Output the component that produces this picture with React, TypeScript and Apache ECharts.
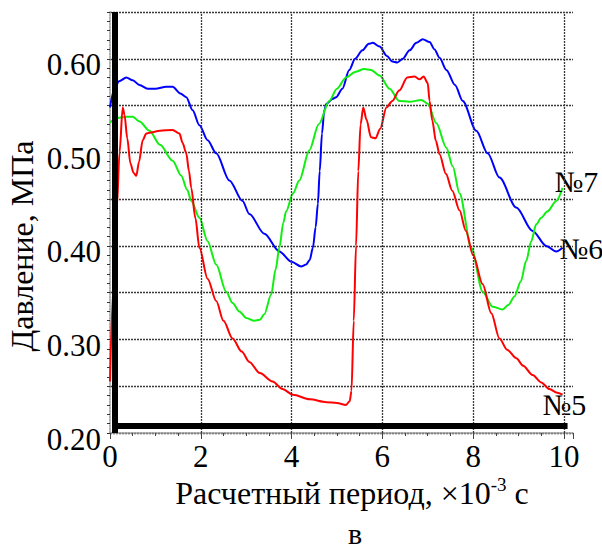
import React, { useEffect, useRef } from "react";
import * as echarts from "echarts";

// Time, x10^-3 s ; pressure, MPa
const CURVE_5: number[][] = [
  [0, 0.255], [0.08, 0.36], [0.15, 0.44], [0.21, 0.5], [0.28, 0.548], [0.32, 0.54],
  [0.38, 0.515], [0.45, 0.488], [0.52, 0.478], [0.58, 0.475], [0.64, 0.49], [0.72, 0.513],
  [0.8, 0.52], [0.87, 0.521], [1.1, 0.523], [1.38, 0.524], [1.53, 0.52], [1.6, 0.51],
  [1.68, 0.499], [1.74, 0.48], [1.79, 0.462], [1.88, 0.43], [1.97, 0.398], [2.15, 0.365],
  [2.34, 0.341], [2.5, 0.32], [2.7, 0.301], [2.9, 0.287], [3.07, 0.276], [3.3, 0.264],
  [3.58, 0.255], [3.8, 0.247], [4.03, 0.241], [4.4, 0.236], [4.77, 0.233], [5.0, 0.232],
  [5.2, 0.23], [5.28, 0.234], [5.32, 0.245], [5.37, 0.32], [5.42, 0.4], [5.47, 0.48],
  [5.52, 0.53], [5.58, 0.548], [5.65, 0.535], [5.75, 0.516], [5.85, 0.515], [5.95, 0.525],
  [6.09, 0.548], [6.22, 0.555], [6.37, 0.566], [6.55, 0.58], [6.71, 0.581], [6.82, 0.578],
  [6.91, 0.581], [7.0, 0.574], [7.04, 0.555], [7.1, 0.534], [7.18, 0.512], [7.26, 0.498],
  [7.4, 0.477], [7.54, 0.459], [7.7, 0.438], [7.84, 0.416], [8.0, 0.39], [8.21, 0.359],
  [8.4, 0.328], [8.58, 0.301], [8.75, 0.289], [8.95, 0.28], [9.1, 0.272], [9.31, 0.262],
  [9.5, 0.254], [9.68, 0.247], [9.85, 0.243], [9.97, 0.241],
];

const CURVE_6: number[][] = [
  [0, 0.548], [0.1, 0.568], [0.2, 0.576], [0.36, 0.58], [0.5, 0.577], [0.65, 0.572],
  [0.83, 0.568], [1.0, 0.568], [1.24, 0.57], [1.38, 0.57], [1.55, 0.563], [1.68, 0.559],
  [1.82, 0.545], [1.97, 0.529], [2.15, 0.513], [2.34, 0.499], [2.63, 0.47], [2.92, 0.448],
  [3.07, 0.434], [3.4, 0.413], [3.73, 0.394], [4.0, 0.383], [4.21, 0.378], [4.32, 0.38],
  [4.4, 0.385], [4.47, 0.398], [4.53, 0.42], [4.58, 0.445], [4.62, 0.48], [4.67, 0.52],
  [4.72, 0.545], [4.77, 0.552], [4.9, 0.557], [4.98, 0.559], [5.12, 0.568], [5.27, 0.588],
  [5.4, 0.6], [5.56, 0.609], [5.7, 0.616], [5.79, 0.617], [5.94, 0.613], [6.1, 0.603],
  [6.22, 0.597], [6.33, 0.596], [6.45, 0.6], [6.6, 0.609], [6.75, 0.617], [6.89, 0.621],
  [7.04, 0.618], [7.15, 0.61], [7.26, 0.601], [7.41, 0.588], [7.6, 0.572], [7.77, 0.555],
  [8.07, 0.523], [8.32, 0.499], [8.58, 0.473], [8.95, 0.441], [9.31, 0.416], [9.61, 0.4],
  [9.83, 0.394], [9.97, 0.398],
];

const CURVE_7: number[][] = [
  [0, 0.532], [0.2, 0.537], [0.36, 0.538], [0.5, 0.538], [0.65, 0.533], [0.87, 0.523],
  [1.1, 0.508], [1.38, 0.491], [1.57, 0.475], [1.7, 0.46], [1.79, 0.448], [1.97, 0.43],
  [2.15, 0.405], [2.34, 0.38], [2.56, 0.351], [2.7, 0.339], [2.85, 0.33], [3.0, 0.323],
  [3.18, 0.32], [3.3, 0.321], [3.4, 0.327], [3.55, 0.348], [3.65, 0.375], [3.73, 0.398],
  [3.82, 0.425], [3.88, 0.437], [4.03, 0.456], [4.17, 0.47], [4.39, 0.502], [4.6, 0.53],
  [4.83, 0.555], [5.0, 0.568], [5.2, 0.58], [5.4, 0.586], [5.6, 0.589], [5.75, 0.588],
  [5.94, 0.582], [6.16, 0.568], [6.37, 0.555], [6.6, 0.554], [6.86, 0.556], [7.0, 0.552],
  [7.19, 0.531], [7.41, 0.505], [7.55, 0.485], [7.7, 0.456], [7.96, 0.398], [8.21, 0.351],
  [8.43, 0.335], [8.65, 0.332], [8.78, 0.337], [8.91, 0.346], [9.05, 0.362], [9.17, 0.384],
  [9.28, 0.405], [9.39, 0.423], [9.5, 0.43], [9.64, 0.437], [9.83, 0.448], [9.97, 0.462],
];

const SERIES_NAMES = ["№6", "№7", "№5"];
const X_LABELS = [0, 2, 4, 6, 8, 10];
const Y_LABELS = [0.2, 0.3, 0.4, 0.5, 0.6];

const FAMILY = "Liberation Serif";
const FONT = "'Liberation Serif', serif";
const GRID_STYLE = { color: "#3a3a3a", width: 1.3, type: [2, 1] as any };

export default function App() {
  const ref = useRef<HTMLDivElement>(null);
  useEffect(() => {
    if (!ref.current) return;
    const chart = echarts.init(ref.current, null, { renderer: "svg" });
    const lineBase = (name: string, data: number[][], color: string, off: number[]) => ({
      type: "line",
      name,
      data,
      showSymbol: false,
      symbol: "none",
      smooth: 0.3,
      smoothMonotone: "x",
      lineStyle: { color, width: 2 },
      endLabel: {
        show: true,
        formatter: name,
        fontFamily: FAMILY,
        fontSize: 30,
        color: "#000",
        offset: off,
      },
      z: 3,
    });
    chart.setOption({
      animation: false,
      backgroundColor: "#fff",
      grid: { left: 110, right: 29, top: 12, bottom: 118 },
      xAxis: {
        type: "value",
        min: 0,
        max: 10.2,
        interval: 2,
        axisLine: { show: true, lineStyle: { color: "#999", width: 1.5, type: [2, 1] } },
        axisTick: { show: true, inside: false, length: 6, lineStyle: { color: "#444" } },
        minorTick: { show: true, splitNumber: 4, length: 3, lineStyle: { color: "#444" } },
        splitLine: { show: false },
        axisLabel: {
          fontFamily: FAMILY,
          fontSize: 31,
          color: "#000",
          margin: 8,
          formatter: (v: number) => (X_LABELS.some((l) => Math.abs(l - v) < 1e-6) ? String(v) : ""),
        },
      },
      yAxis: {
        type: "value",
        min: 0.2,
        max: 0.65,
        interval: 0.05,
        axisLine: { show: true, onZero: false, lineStyle: { color: "#999", width: 1.5, type: [2, 1] } },
        axisTick: { show: true, inside: false, length: 3, lineStyle: { color: "#333" } },
        minorTick: { show: true, splitNumber: 5, length: 3, lineStyle: { color: "#333" } },
        splitLine: { show: true, lineStyle: GRID_STYLE },
        axisLabel: {
          margin: 9,
          formatter: (v: number) =>
            Y_LABELS.some((l) => Math.abs(l - v) < 1e-6) ? `{v|${v.toFixed(2)}}` : "",
          rich: {
            v: { fontFamily: FAMILY, fontSize: 31, color: "#000", padding: [12, 0, 0, 0] },
          },
        },
      },
      series: [
        lineBase(SERIES_NAMES[0], CURVE_6, "#0000ff", [-11, 1]),
        lineBase(SERIES_NAMES[1], CURVE_7, "#11ee11", [-16, -6]),
        lineBase(SERIES_NAMES[2], CURVE_5, "#ff0000", [-28, 10]),
        {
          type: "line",
          name: "grid",
          data: [],
          silent: true,
          z: 1,
          markLine: {
            silent: true,
            symbol: "none",
            animation: false,
            label: { show: false },
            lineStyle: GRID_STYLE,
            data: X_LABELS.filter((v) => v > 0).map((v) => ({ xAxis: v })),
          },
        },
        {
          type: "line",
          name: "frame",
          data: [],
          silent: true,
          z: 10,
          markLine: {
            silent: true,
            symbol: "none",
            animation: false,
            label: { show: false },
            lineStyle: { color: "#000", width: 6, type: "solid" },
            data: [
              [{ coord: [0.11, 0.65] }, { coord: [0.11, 0.2] }],
              [{ coord: [0.05, 0.2075] }, { coord: [10.08, 0.2075] }],
            ],
          },
        },
      ],
      graphic: [
        {
          type: "text",
          x: 22,
          y: 246,
          rotation: Math.PI / 2,
          style: {
            text: "Давление, МПа",
            font: `32px ${FONT}`,
            fill: "#000",
            align: "center",
            verticalAlign: "middle",
            textAlign: "center",
            textVerticalAlign: "middle",
          },
        },
        {
          type: "text",
          x: 352,
          y: 492,
          style: {
            text: "{a|Расчетный период, ×10}{s|-3}{a| с}",
            fill: "#000",
            align: "center",
            verticalAlign: "middle",
            textAlign: "center",
            textVerticalAlign: "middle",
            rich: {
              a: { fontFamily: FAMILY, fontSize: 32, lineHeight: 34, fill: "#000", verticalAlign: "bottom" },
              s: { fontFamily: FAMILY, fontSize: 19, lineHeight: 19, fill: "#000", verticalAlign: "top" },
            },
          },
        },
        {
          type: "text",
          x: 355,
          y: 533,
          style: {
            text: "в",
            font: `30px ${FONT}`,
            fill: "#000",
            align: "center",
            verticalAlign: "middle",
            textAlign: "center",
            textVerticalAlign: "middle",
          },
        },
      ],
    });
    return () => chart.dispose();
  }, []);
  return (
    <div
      ref={ref}
      style={{ position: "absolute", left: 0, top: 0, width: 602, height: 551 }}
    />
  );
}
